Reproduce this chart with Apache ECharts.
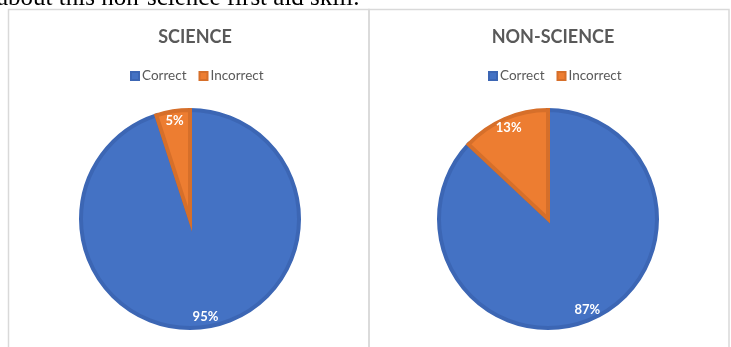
<!DOCTYPE html>
<html><head><meta charset="utf-8">
<script src="https://cdn.jsdelivr.net/npm/echarts@6/dist/echarts.min.js"></script>
<style>html,body{margin:0;padding:0;background:#fff}#c{width:731px;height:347px}</style>
</head><body><div id="c"></div>
<script>
const categories = ['Correct', 'Incorrect'];
const scienceValues = [95, 5];
const nonScienceValues = [87, 13];
const chartTitles = ['SCIENCE', 'NON-SCIENCE'];
const captionText = 'about this non-science first aid skill.';

const fills = ['#4472C4', '#ED7D31'];
const borders = ['#3C66B4', '#D66F2A'];
const centers = [[190, 219], [548, 219]];
const R = 109;
const uiFont = 'Lato, "Open Sans", sans-serif';

function mkData(vals) {
  return categories.map((n, i) => ({
    name: n, value: vals[i],
    itemStyle: { color: fills[i], borderColor: borders[i], borderWidth: 4, borderJoin: 'miter' }
  }));
}
function mkLabelData(vals) {
  return categories.map((n, i) => ({ name: n, value: vals[i] }));
}
const seriesVals = [scienceValues, nonScienceValues];
const series = [];
seriesVals.forEach((vals, k) => {
  series.push({
    type: 'pie', center: centers[k], radius: [0, R], startAngle: 90, clockwise: true,
    avoidLabelOverlap: false, label: { show: false }, labelLine: { show: false },
    emphasis: { disabled: true }, silent: true, animation: false,
    data: mkData(vals)
  });
  series.push({
    type: 'pie', center: centers[k], radius: [R - 28, R + 2], startAngle: 90, clockwise: true,
    avoidLabelOverlap: false, silent: true, animation: false,
    emphasis: { disabled: true },
    itemStyle: { color: 'rgba(0,0,0,0)', borderWidth: 0 },
    label: { show: true, position: 'inside', formatter: '{c}%', color: '#fff',
      fontFamily: uiFont, fontWeight: 'bold', fontSize: 13 },
    labelLine: { show: false },
    data: mkLabelData(vals)
  });
});

const chart = echarts.init(document.getElementById('c'), null, { renderer: 'canvas' });
chart.setOption({
  backgroundColor: '#fff',
  animation: false,
  title: chartTitles.map((t, k) => ({
    text: t, left: centers[k][0], top: 23, textAlign: 'center',
    textStyle: { fontFamily: uiFont, fontWeight: 'bold', fontSize: 18, color: '#595959' }
  })),
  legend: centers.map((c, k) => ({
    data: categories, left: c[0] - 65, top: 64, icon: 'rect', itemWidth: 8, itemHeight: 8,
    itemGap: 12, selectedMode: false,
    textStyle: { fontFamily: uiFont, fontSize: 13.5, color: '#595959', padding: [0, 0, 0, -2] }
  })),
  graphic: [
    { type: 'rect', shape: { x: 8.5, y: 9.5, width: 360.5, height: 360 }, style: { fill: 'none', stroke: '#d9d9d9', lineWidth: 1.5 }, silent: true },
    { type: 'rect', shape: { x: 369, y: 9.5, width: 360, height: 360 }, style: { fill: 'none', stroke: '#d9d9d9', lineWidth: 1.5 }, silent: true },
    { type: 'text', left: -3, top: -14, style: { text: captionText, font: '25px "Liberation Serif", "Times New Roman", serif', fill: '#000' }, silent: true }
  ],
  series: series
});
</script></body></html>
